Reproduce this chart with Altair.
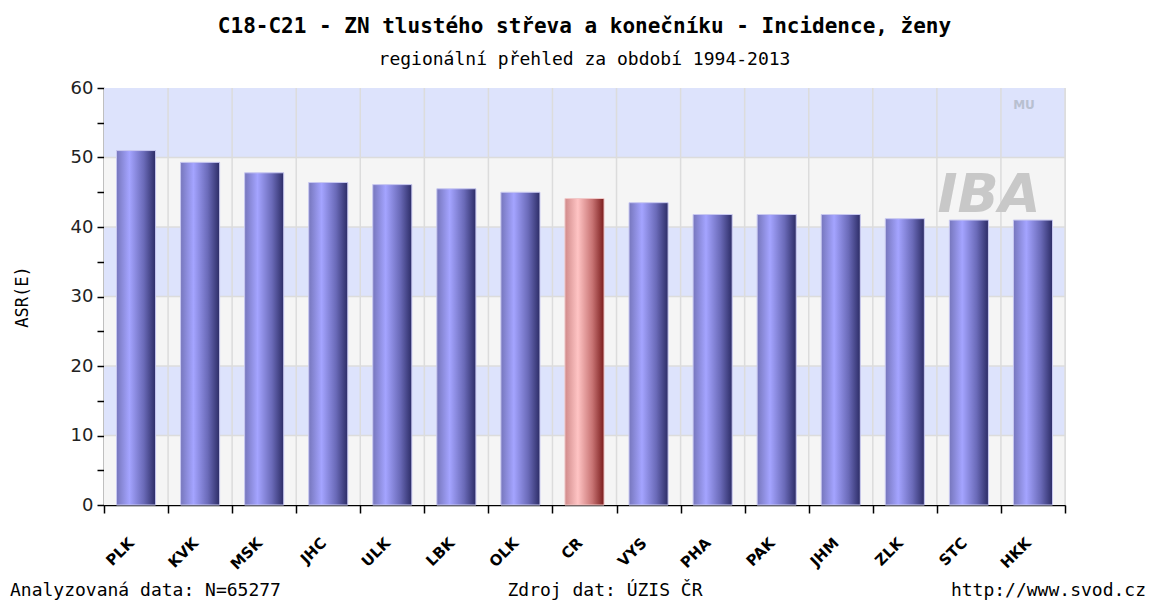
import altair as alt
import pandas as pd

regions = ["PLK", "KVK", "MSK", "JHC", "ULK", "LBK", "OLK", "CR", "VYS", "PHA", "PAK", "JHM", "ZLK", "STC", "HKK"]
values = [51.0, 49.3, 47.8, 46.4, 46.1, 45.5, 45.0, 44.1, 43.5, 41.8, 41.8, 41.8, 41.2, 41.0, 41.0]
highlight = "CR"

band_lo = [0, 10, 20, 30, 40, 50]
band_hi = [10, 20, 30, 40, 50, 60]
band_col = ["#f5f5f5", "#dde3fc", "#f5f5f5", "#dde3fc", "#f5f5f5", "#dde3fc"]
grid_y = [10, 20, 30, 40, 50]

y_ticks = [0, 5, 10, 15, 20, 25, 30, 35, 40, 45, 50, 55, 60]

title_text = "C18-C21 - ZN tlustého střeva a konečníku - Incidence, ženy"
subtitle_text = "regionální přehled za období 1994-2013"
footer_left = "Analyzovaná data: N=65277"
footer_mid = "Zdroj dat: ÚZIS ČR"
footer_right = "http://www.svod.cz"

W, H = 961, 417
MONO = "DejaVu Sans Mono"
GRID = "#dcdcdc"

df = pd.DataFrame({"region": regions, "value": values})
bands = pd.DataFrame({"lo": band_lo, "hi": band_hi, "col": band_col})
gridy = pd.DataFrame({"g": grid_y})

x_axis = alt.Axis(title=None, labelAngle=-45, labelAlign="right",
                  labelBaseline="middle", tickBand="extent", grid=False,
                  domainColor="#000000", domainWidth=1.5,
                  tickColor="#000000", tickWidth=1.5, tickSize=8,
                  labelFont="DejaVu Sans", labelFontWeight="bold",
                  labelFontSize=15, labelColor="#000000",
                  labelPadding=27, labelOffset=-5)
y_axis = alt.Axis(values=y_ticks, title="ASR(E)",
                  labelExpr="datum.value % 10 == 0 ? datum.label : ''",
                  grid=False,
                  domainColor="#000000", domainWidth=1.5,
                  tickColor="#000000", tickWidth=1.5, tickSize=7,
                  labelFont="DejaVu Sans", labelFontSize=18,
                  labelColor="#222222", labelPadding=4,
                  titleFont=MONO, titleFontSize=17,
                  titleFontWeight="normal", titleColor="#000000",
                  titlePadding=39)
x_scale = alt.Scale(paddingInner=0, paddingOuter=0)
y_scale = alt.Scale(domain=[0, 60], nice=False)

bg = alt.Chart(bands).mark_rect().encode(
    x=alt.value(0), x2=alt.value("width"),
    y=alt.Y("lo:Q", scale=y_scale, axis=y_axis),
    y2="hi:Q",
    color=alt.Color("col:N", scale=None),
)

vgrid = alt.Chart(df).mark_rule(color=GRID, strokeWidth=1.5).encode(
    x=alt.X("region:N", sort=regions, scale=x_scale, axis=x_axis, bandPosition=1))

hgrid = alt.Chart(gridy).mark_rule(color=GRID, strokeWidth=1.5).encode(
    y=alt.Y("g:Q", scale=y_scale, axis=y_axis))

blue_grad = alt.Gradient(
    gradient="linear", x1=0, x2=1, y1=0, y2=0,
    stops=[alt.GradientStop(color="#7676bc", offset=0),
           alt.GradientStop(color="#a4a4ff", offset=0.33),
           alt.GradientStop(color="#6a6ab8", offset=0.7),
           alt.GradientStop(color="#2c2c66", offset=1)])
red_grad = alt.Gradient(
    gradient="linear", x1=0, x2=1, y1=0, y2=0,
    stops=[alt.GradientStop(color="#d08a8a", offset=0),
           alt.GradientStop(color="#ffc4c4", offset=0.33),
           alt.GradientStop(color="#c87474", offset=0.7),
           alt.GradientStop(color="#7a1c1c", offset=1)])

x_enc = alt.X("region:N", sort=regions, scale=x_scale, axis=x_axis)

bars_blue = alt.Chart(df).transform_filter(
    alt.datum.region != highlight
).mark_bar(width=alt.RelativeBandSize(0.61), color=blue_grad,
           stroke="#c8c8f0", strokeWidth=1).encode(
    x=x_enc, y=alt.Y("value:Q", scale=y_scale, axis=y_axis))

bars_red = alt.Chart(df).transform_filter(
    alt.datum.region == highlight
).mark_bar(width=alt.RelativeBandSize(0.61), color=red_grad,
           stroke="#f0c8c8", strokeWidth=1).encode(
    x=x_enc, y=alt.Y("value:Q", scale=y_scale, axis=y_axis))

logo = alt.Chart(pd.DataFrame({"t": ["IBA"]})).mark_text(
    font="DejaVu Sans", fontSize=54, fontWeight="bold", fontStyle="italic",
    color="#c8c8c8", align="center", baseline="alphabetic"
).encode(text="t:N", x=alt.value(885), y=alt.value(124))
mu = alt.Chart(pd.DataFrame({"t": ["MU"]})).mark_text(
    font="DejaVu Sans", fontSize=12, fontWeight="bold",
    color="#b8c0d0", align="center", baseline="middle"
).encode(text="t:N", x=alt.value(920), y=alt.value(17))

foot_style = dict(font=MONO, fontSize=18, color="#000000", baseline="alphabetic")
f_left = alt.Chart(pd.DataFrame({"t": [footer_left]})).mark_text(
    align="left", **foot_style).encode(text="t:N", x=alt.value(-94), y=alt.value(508))
f_mid = alt.Chart(pd.DataFrame({"t": [footer_mid]})).mark_text(
    align="center", **foot_style).encode(text="t:N", x=alt.value(501), y=alt.value(508))
f_right = alt.Chart(pd.DataFrame({"t": [footer_right]})).mark_text(
    align="right", **foot_style).encode(text="t:N", x=alt.value(1042), y=alt.value(508))

chart = alt.layer(bg, hgrid, vgrid, bars_blue, bars_red, logo, mu,
                  f_left, f_mid, f_right).properties(
    width=W, height=H,
    padding={"left": 96, "top": 80, "right": 83, "bottom": 98},
    autosize=alt.AutoSizeParams(type="none"),
    title=alt.TitleParams(
        text=title_text, subtitle=subtitle_text, anchor="middle",
        font=MONO, fontSize=21, fontWeight="bold", color="#000000",
        subtitleFont=MONO, subtitleFontSize=18, subtitleColor="#000000",
        subtitlePadding=14, offset=10),
).configure_view(stroke=None).configure_axisY(
    titleFont=MONO, titleFontSize=17, titleFontWeight="normal"
).configure(background="#ffffff")

chart.save("out.html", embed_options={"renderer": "svg", "actions": False})
